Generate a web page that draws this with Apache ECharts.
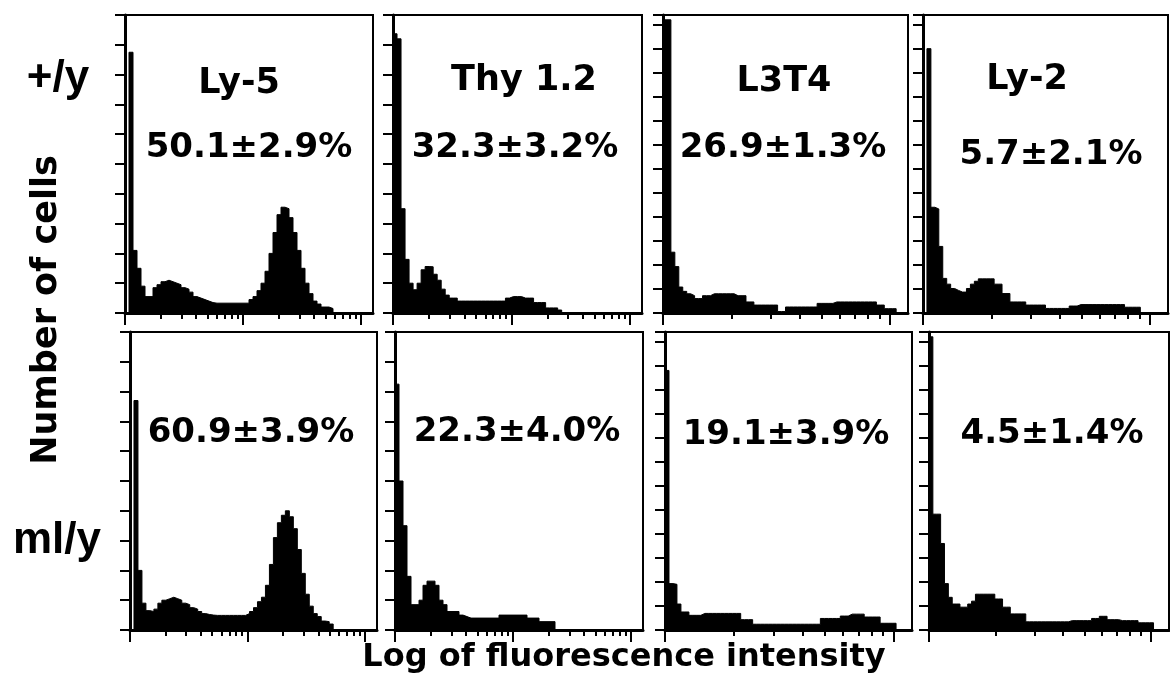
<!DOCTYPE html>
<html>
<head>
<meta charset="utf-8">
<title>Log of fluorescence intensity</title>
<script src="https://cdn.jsdelivr.net/npm/echarts@6.0.0/dist/echarts.min.js"></script>
<style>
html, body { margin: 0; padding: 0; background: #fff; }
#facs { width: 1170px; height: 681px; }
</style>
</head>
<body>
<div id="facs"></div>
<script>
// markers (columns) and mice (rows)
var markers = ['Ly-5', 'Thy 1.2', 'L3T4', 'Ly-2'];
var genotypes = ['+/y', 'ml/y'];
var percentWt = ['50.1\u00b12.9%', '32.3\u00b13.2%', '26.9\u00b11.3%', '5.7\u00b12.1%'];
var percentMl = ['60.9\u00b13.9%', '22.3\u00b14.0%', '19.1\u00b13.9%', '4.5\u00b11.4%'];

// log tick marks, in fluorescence units
var ticksTwoDecades = [1, 2, 3, 4, 5, 6, 7, 8, 9, 10, 20, 30, 40, 50, 60, 70, 80, 90, 100];
var ticksOneDecade = [1, 2, 3, 4, 5, 6, 7, 8, 9, 10];
var majorTicks = [1, 10, 100];

// decades shown on each column, and y range (number of cells, tick units)
var spanDecades = [2.1, 2.1, 1.08, 1.08];
var cellMax = [10, 10, 12.4, 12.4];
var nBins = 62;

// histograms, one value per channel bin (left to right)
var ly5Wt = [0, 8.75, 2.1, 1.5, 0.9, 0.55, 0.55, 0.85, 0.95, 1.05, 1.1, 1.05, 1.0, 0.95, 0.85, 0.8, 0.7, 0.55, 0.5, 0.45, 0.4, 0.35,
  0.33, 0.33, 0.33, 0.33, 0.33, 0.33, 0.33, 0.33, 0.33, 0.45, 0.55, 0.75, 1.0, 1.4, 2.0, 2.7, 3.3, 3.55, 3.5, 3.2, 2.7, 2.1,
  1.5, 1.0, 0.65, 0.4, 0.3, 0.2, 0.2, 0.15, 0];
var thyWt = [9.37, 9.2, 3.5, 1.8, 1.0, 0.78, 1.0, 1.45, 1.56, 1.55, 1.3, 1.1, 0.8, 0.6, 0.5, 0.5,
  0.4, 0.4, 0.4, 0.4, 0.4, 0.4, 0.4, 0.4, 0.4, 0.4, 0.4, 0.4, 0.5, 0.55, 0.55, 0.55, 0.5, 0.5, 0.5,
  0.35, 0.35, 0.35, 0.17, 0.17, 0.17, 0.1, 0];
var l3t4Wt = [12.2, 12.2, 2.53, 1.93, 1.08, 0.9, 0.8, 0.72, 0.6, 0.6, 0.72, 0.72, 0.8, 0.8, 0.8, 0.8, 0.8, 0.8,
  0.72, 0.72, 0.72, 0.46, 0.46, 0.33, 0.33, 0.33, 0.33, 0.33, 0.33, 0.06, 0.06,
  0.25, 0.25, 0.25, 0.25, 0.25, 0.25, 0.25, 0.25, 0.4, 0.4, 0.4, 0.4,
  0.46, 0.46, 0.46, 0.46, 0.46, 0.46, 0.46, 0.46, 0.46, 0.46, 0.46, 0.33, 0.33, 0.18, 0.18, 0.18, 0];
var ly2Wt = [0, 11.0, 4.4, 4.33, 2.77, 1.44, 1.2, 1.02, 0.94, 0.87, 0.87, 1.02, 1.2, 1.32, 1.42, 1.42, 1.42, 1.42,
  1.2, 1.2, 0.81, 0.81, 0.46, 0.46, 0.46, 0.46, 0.33, 0.33, 0.33, 0.33, 0.33,
  0.19, 0.19, 0.19, 0.19, 0.19, 0.19, 0.29, 0.29,
  0.35, 0.35, 0.35, 0.35, 0.35, 0.35, 0.35, 0.35, 0.35, 0.35, 0.35, 0.35, 0.24, 0.24, 0.24, 0.24, 0];
var ly5Ml = [0, 7.7, 2.0, 0.9, 0.65, 0.62, 0.7, 0.9, 1.0, 1.05, 1.1, 1.05, 1.0, 0.9, 0.85, 0.75, 0.7, 0.62, 0.55, 0.52, 0.5,
  0.49, 0.49, 0.49, 0.49, 0.49, 0.49, 0.49, 0.49, 0.55, 0.62, 0.75, 0.95, 1.1, 1.5, 2.2, 3.1, 3.6, 3.85, 4.0, 3.8, 3.4,
  2.7, 1.9, 1.2, 0.8, 0.55, 0.45, 0.3, 0.28, 0.2, 0];
var thyMl = [8.25, 5.0, 3.5, 1.8, 0.85, 0.85, 1.0, 1.5, 1.64, 1.64, 1.5, 1.0, 0.85, 0.62, 0.62, 0.62, 0.5, 0.45,
  0.4, 0.4, 0.4, 0.4, 0.4, 0.4, 0.4, 0.4, 0.5, 0.5, 0.5, 0.5, 0.5, 0.5, 0.5, 0.4, 0.4, 0.4,
  0.28, 0.28, 0.28, 0.28, 0];
var l3t4Ml = [10.8, 1.93, 1.9, 1.08, 0.75, 0.75, 0.61, 0.61, 0.61, 0.69, 0.69, 0.69, 0.69, 0.69, 0.69, 0.69, 0.69, 0.69, 0.69,
  0.43, 0.43, 0.43, 0.24, 0.24, 0.24, 0.24, 0.24, 0.24, 0.24, 0.24, 0.24, 0.24, 0.24, 0.24, 0.24, 0.24, 0.24, 0.24, 0.24,
  0.48, 0.48, 0.48, 0.48, 0.48, 0.58, 0.58, 0.66, 0.66, 0.66, 0.66, 0.54, 0.54, 0.54, 0.54, 0.28, 0.28, 0.28, 0.28, 0];
var ly2Ml = [12.2, 4.82, 4.82, 3.6, 1.93, 1.36, 1.08, 1.08, 0.95, 0.95, 1.08, 1.2, 1.49, 1.49, 1.49, 1.49, 1.49, 1.29, 1.29,
  0.95, 0.95, 0.67, 0.67, 0.67, 0.67, 0.34, 0.34, 0.34, 0.34, 0.34, 0.34, 0.34, 0.34, 0.34, 0.34, 0.34,
  0.39, 0.39, 0.39, 0.39, 0.39, 0.39, 0.48, 0.48, 0.57, 0.57, 0.43, 0.43, 0.43, 0.39, 0.39, 0.39, 0.39, 0.39,
  0.3, 0.3, 0.3, 0.3, 0];

var histograms = [ly5Wt, thyWt, l3t4Wt, ly2Wt, ly5Ml, thyMl, l3t4Ml, ly2Ml];

var dom = document.getElementById("facs");
var facsChart = echarts.init(dom, null, {renderer: 'canvas'});

// panel boxes, row by row
var boxes = [
    {left: 125, top: 15, width: 248},
    {left: 393, top: 15, width: 249},
    {left: 663, top: 15, width: 245},
    {left: 923, top: 15, width: 245},
    {left: 130, top: 332, width: 247},
    {left: 395, top: 332, width: 248},
    {left: 665, top: 332, width: 247},
    {left: 929, top: 332, width: 240}
];
var plotHeight = 298;

var grid = [], xAxis = [], yAxis = [], series = [];
var black = '#000';

boxes.forEach(function (b, i) {
    var col = i % 4;
    var span = spanDecades[col];
    var tickNums = span > 1.5 ? ticksTwoDecades : ticksOneDecade;
    var allTicks = tickNums.map(function (v) { return Math.log10(v); });
    var bigTicks = majorTicks.map(function (v) { return Math.log10(v); })
        .filter(function (v) { return v <= span; });
    var bw = span / nBins;

    grid.push({
        left: b.left, top: b.top, width: b.width, height: plotHeight,
        show: true, borderColor: black, borderWidth: 2, containLabel: false
    });

    xAxis.push({
        gridIndex: i, type: 'value', min: 0, max: span, position: 'bottom',
        axisLine: {onZero: false, lineStyle: {color: black, width: 3}},
        axisTick: {customValues: allTicks, length: 6, lineStyle: {color: black, width: 2}},
        axisLabel: {show: false},
        splitLine: {show: false}
    });
    xAxis.push({
        gridIndex: i, type: 'value', min: 0, max: span, position: 'bottom',
        axisLine: {show: false},
        axisTick: {show: true, customValues: bigTicks, length: 12, lineStyle: {color: black, width: 2}},
        axisLabel: {show: false},
        splitLine: {show: false}
    });

    yAxis.push({
        gridIndex: i, type: 'value', min: 0, max: cellMax[col], interval: 1,
        axisLine: {onZero: false, lineStyle: {color: black, width: 3}},
        axisTick: {length: 10, lineStyle: {color: black, width: 2}},
        axisLabel: {show: false},
        splitLine: {show: false}
    });

    series.push({
        name: markers[col] + ' ' + genotypes[Math.floor(i / 4)],
        type: 'line',
        step: 'end',
        xAxisIndex: i * 2,
        yAxisIndex: i,
        symbol: 'none',
        silent: true,
        lineStyle: {color: black, width: 1},
        areaStyle: {color: black, opacity: 1},
        data: histograms[i].map(function (h, k) { return [k * bw, h]; })
    });
});

var boldSans = '"DejaVu Sans", "Liberation Sans", sans-serif';
function label(text, x, y, size, extra) {
    var el = {
        type: 'text', x: x, y: y, z: 100, silent: true,
        style: {
            text: text, fill: black,
            font: 'bold ' + size + 'px ' + boldSans,
            align: 'center', verticalAlign: 'middle'
        }
    };
    if (extra) { for (var k in extra) el[k] = extra[k]; }
    return el;
}

var titlePos = [[239, 84], [524, 81], [784, 82], [1027, 80]];
var pctWtPos = [[249, 148], [515, 148], [783, 148], [1051, 155]];
var pctMlPos = [[251, 433], [517, 432], [786, 435], [1052, 434]];

var graphic = [];
markers.forEach(function (m, c) {
    graphic.push(label(m, titlePos[c][0], titlePos[c][1], 35));
    graphic.push(label(percentWt[c], pctWtPos[c][0], pctWtPos[c][1], 34));
    graphic.push(label(percentMl[c], pctMlPos[c][0], pctMlPos[c][1], 34));
});

var rowFont = 'bold 44px "Liberation Sans", Arial, sans-serif';
graphic.push({type: 'text', x: 58, y: 79, z: 100, silent: true,
    style: {text: genotypes[0], fill: black, font: rowFont, align: 'center', verticalAlign: 'middle'}});
graphic.push({type: 'text', x: 57, y: 541, z: 100, silent: true,
    style: {text: genotypes[1], fill: black, font: rowFont, align: 'center', verticalAlign: 'middle'}});

graphic.push(label('Number of cells', 47, 310, 35, {rotation: Math.PI / 2}));
graphic.push(label('Log of fluorescence intensity', 624, 658, 32));

option = null;
option = {
    animation: false,
    backgroundColor: '#fff',
    grid: grid,
    xAxis: xAxis,
    yAxis: yAxis,
    series: series,
    graphic: graphic
};

if (option && typeof option === "object") {
    facsChart.setOption(option, false);
}
window.onresize = facsChart.resize;
</script>
</body>
</html>
